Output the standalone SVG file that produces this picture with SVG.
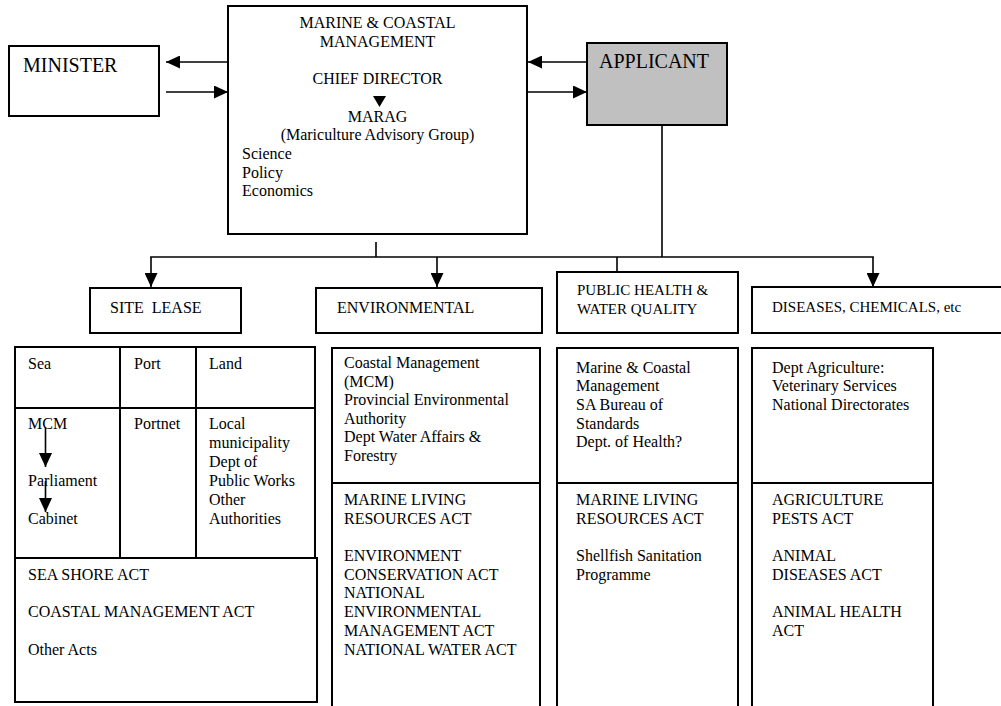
<svg xmlns="http://www.w3.org/2000/svg" width="1001" height="706" viewBox="0 0 1001 706">
<style>
.box{fill:#fff;stroke:#000;stroke-width:2}
.gray{fill:#c0c0c0;stroke:#000;stroke-width:2}
.ln{fill:none;stroke:#000;stroke-width:1.6}
.div{stroke:#000;stroke-width:2}
.t{font-family:"Liberation Serif","Times New Roman",serif;font-size:16px;fill:#000}
.big{font-size:20px}
.sm{font-size:15px}
.c{text-anchor:middle}
</style>
<defs>
<marker id="ah" viewBox="0 0 14 13" refX="14" refY="6.5" markerWidth="14" markerHeight="13" markerUnits="userSpaceOnUse" orient="auto">
<path d="M0,0 L14,6.5 L0,13 z" fill="#000"/>
</marker>
</defs>
<rect width="1001" height="706" fill="#fff"/>

<g id="minister">
<rect class="box" x="9" y="46" width="150" height="70"/>
<text class="t big" x="23" y="72">MINISTER</text>
</g>

<g id="mcm">
<rect class="box" x="228" y="6" width="299" height="228"/>
<text class="t c" x="377.5" y="28">MARINE &amp; COASTAL</text>
<text class="t c" x="377.5" y="46.5">MANAGEMENT</text>
<text class="t c" x="377.5" y="83.5">CHIEF DIRECTOR</text>
<polygon points="373,96 386,96 379.5,107" fill="#000"/>
<text class="t c" x="377.5" y="122">MARAG</text>
<text class="t c" x="377.5" y="140">(Mariculture Advisory Group)</text>
<text class="t" x="242" y="159">Science</text>
<text class="t" x="242" y="177.5">Policy</text>
<text class="t" x="242" y="196">Economics</text>
</g>

<g id="applicant">
<rect class="gray" x="587" y="43" width="140" height="82"/>
<text class="t big" x="599" y="68">APPLICANT</text>
</g>

<g id="site-lease">
<rect class="box" x="90" y="288" width="151" height="45"/>
<text class="t" x="110" y="313" xml:space="preserve">SITE  LEASE</text>
</g>

<g id="environmental">
<rect class="box" x="316" y="288" width="226" height="45"/>
<text class="t" x="337" y="313">ENVIRONMENTAL</text>
</g>

<g id="public-health">
<rect class="box" x="557" y="272" width="181" height="61"/>
<text class="t sm" x="577" y="295">PUBLIC HEALTH &amp;</text>
<text class="t sm" x="577" y="314">WATER QUALITY</text>
</g>

<g id="diseases">
<rect class="box" x="752" y="287" width="260" height="46"/>
<text class="t sm" x="772" y="312">DISEASES, CHEMICALS, etc</text>
</g>

<g id="site-table">
<rect class="box" x="15" y="347" width="300" height="211"/>
<line class="div" x1="15" y1="408" x2="315" y2="408"/>
<line class="div" x1="120" y1="347" x2="120" y2="558"/>
<line class="div" x1="196" y1="347" x2="196" y2="558"/>
<rect class="box" x="15" y="558" width="302" height="144"/>
<text class="t" x="28" y="369">Sea</text>
<text class="t" x="134" y="369">Port</text>
<text class="t" x="209" y="369">Land</text>
<text class="t" x="28" y="429">MCM</text>
<text class="t" x="28" y="486">Parliament</text>
<text class="t" x="28" y="524">Cabinet</text>
<line class="ln" x1="45.5" y1="427" x2="45.5" y2="467" marker-end="url(#ah)"/>
<line class="ln" x1="45.5" y1="481" x2="45.5" y2="512" marker-end="url(#ah)"/>
<text class="t" x="134" y="429">Portnet</text>
<text class="t" x="209" y="429">Local</text>
<text class="t" x="209" y="448">municipality</text>
<text class="t" x="209" y="467">Dept of</text>
<text class="t" x="209" y="486">Public Works</text>
<text class="t" x="209" y="505">Other</text>
<text class="t" x="209" y="524">Authorities</text>
<text class="t" x="28" y="580">SEA SHORE ACT</text>
<text class="t" x="28" y="617">COASTAL MANAGEMENT ACT</text>
<text class="t" x="28" y="655">Other Acts</text>
</g>

<g id="env-table">
<rect class="box" x="332" y="348" width="208" height="370"/>
<line class="div" x1="332" y1="483" x2="540" y2="483"/>
<text class="t" x="344" y="368">Coastal Management</text>
<text class="t" x="344" y="387">(MCM)</text>
<text class="t" x="344" y="405">Provincial Environmental</text>
<text class="t" x="344" y="424">Authority</text>
<text class="t" x="344" y="442">Dept Water Affairs &amp;</text>
<text class="t" x="344" y="461">Forestry</text>
<text class="t" x="344" y="505">MARINE LIVING</text>
<text class="t" x="344" y="524">RESOURCES ACT</text>
<text class="t" x="344" y="561">ENVIRONMENT</text>
<text class="t" x="344" y="580">CONSERVATION ACT</text>
<text class="t" x="344" y="598">NATIONAL</text>
<text class="t" x="344" y="617">ENVIRONMENTAL</text>
<text class="t" x="344" y="636">MANAGEMENT ACT</text>
<text class="t" x="344" y="655">NATIONAL WATER ACT</text>
</g>

<g id="ph-table">
<rect class="box" x="557" y="348" width="181" height="370"/>
<line class="div" x1="557" y1="483" x2="738" y2="483"/>
<text class="t" x="576" y="373">Marine &amp; Coastal</text>
<text class="t" x="576" y="391">Management</text>
<text class="t" x="576" y="410">SA Bureau of</text>
<text class="t" x="576" y="429">Standards</text>
<text class="t" x="576" y="447">Dept. of Health?</text>
<text class="t" x="576" y="505">MARINE LIVING</text>
<text class="t" x="576" y="524">RESOURCES ACT</text>
<text class="t" x="576" y="561">Shellfish Sanitation</text>
<text class="t" x="576" y="580">Programme</text>
</g>

<g id="dis-table">
<rect class="box" x="752" y="348" width="181" height="370"/>
<line class="div" x1="752" y1="483" x2="933" y2="483"/>
<text class="t" x="772" y="373">Dept Agriculture:</text>
<text class="t" x="772" y="391">Veterinary Services</text>
<text class="t" x="772" y="410">National Directorates</text>
<text class="t" x="772" y="505">AGRICULTURE</text>
<text class="t" x="772" y="524">PESTS ACT</text>
<text class="t" x="772" y="561">ANIMAL</text>
<text class="t" x="772" y="580">DISEASES ACT</text>
<text class="t" x="772" y="617">ANIMAL HEALTH</text>
<text class="t" x="772" y="636">ACT</text>
</g>

<g id="connectors">
<line class="ln" x1="228" y1="62" x2="166" y2="62" marker-end="url(#ah)"/>
<line class="ln" x1="166" y1="92" x2="228" y2="92" marker-end="url(#ah)"/>
<line class="ln" x1="587" y1="62" x2="528" y2="62" marker-end="url(#ah)"/>
<line class="ln" x1="527" y1="92" x2="587" y2="92" marker-end="url(#ah)"/>
<line class="ln" x1="376" y1="242" x2="376" y2="257"/>
<line class="ln" x1="662" y1="125" x2="662" y2="257"/>
<line class="ln" x1="150.2" y1="257" x2="873.8" y2="257"/>
<line class="ln" x1="151" y1="257" x2="151" y2="287" marker-end="url(#ah)"/>
<line class="ln" x1="437" y1="257" x2="437" y2="287" marker-end="url(#ah)"/>
<line class="ln" x1="873" y1="257" x2="873" y2="287" marker-end="url(#ah)"/>
<line class="ln" x1="617" y1="257" x2="617" y2="272"/>
</g>
</svg>
